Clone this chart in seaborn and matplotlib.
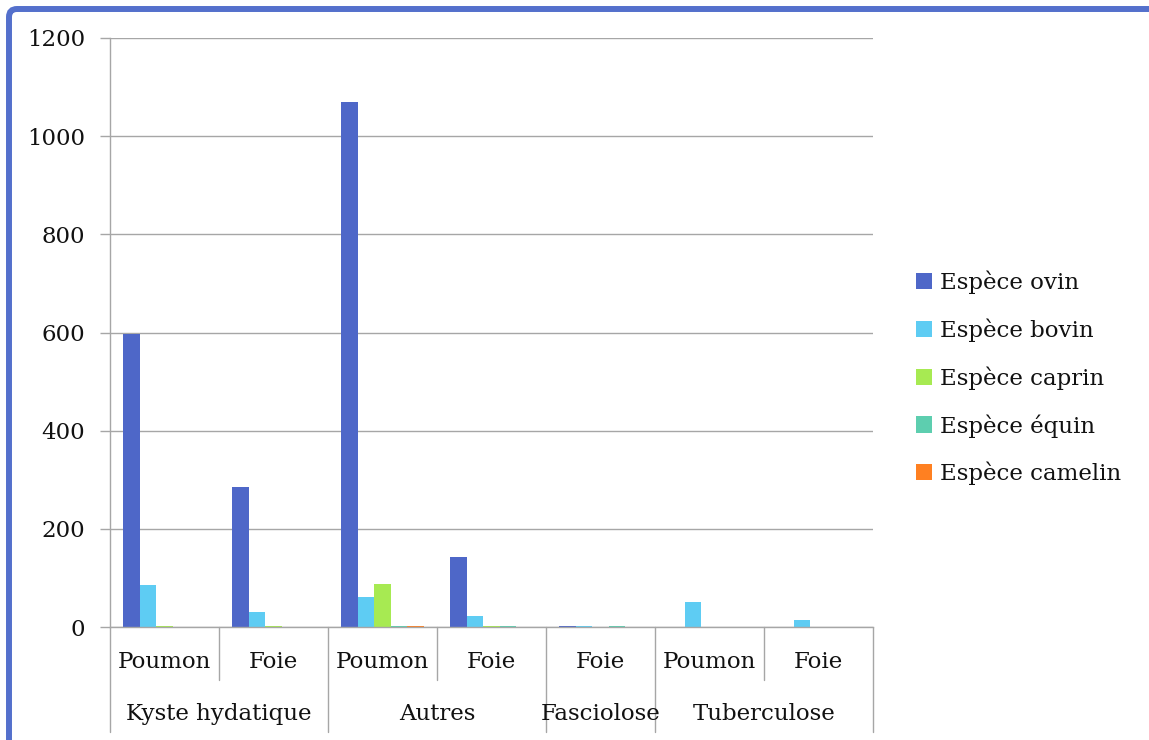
import numpy as np
import pandas as pd
import matplotlib
matplotlib.use("Agg")
import matplotlib.pyplot as plt
import matplotlib.transforms as mtransforms
from matplotlib.patches import Patch, FancyBboxPatch
from matplotlib.lines import Line2D
import seaborn as sns

# Lesions by disease / organ and by animal species
groupes = ["Kyste hydatique", "Kyste hydatique", "Autres", "Autres",
           "Fasciolose", "Tuberculose", "Tuberculose"]
organes = ["Poumon", "Foie", "Poumon", "Foie", "Foie", "Poumon", "Foie"]
especes = ["Espèce ovin", "Espèce bovin", "Espèce caprin",
           "Espèce équin", "Espèce camelin"]
ovin = [597, 285, 1069, 143, 2, 0, 0]
bovin = [85, 30, 61, 22, 2, 51, 14]
caprin = [2, 2, 88, 2, 0, 0, 0]
equin = [0, 0, 2, 2, 2, 0, 0]
camelin = [0, 0, 3, 0, 0, 0, 0]
yticks = [0, 200, 400, 600, 800, 1000, 1200]

couleurs = ["#4E67C8", "#5ECCF3", "#A7EA52", "#5DCEAF", "#FF8021"]
gris = "#A6A6A6"

cles = [f"{g}|{o}|{i}" for i, (g, o) in enumerate(zip(groupes, organes))]
series = [ovin, bovin, caprin, equin, camelin]
df = pd.DataFrame(
    [(cles[i], esp, vals[i]) for esp, vals in zip(especes, series)
     for i in range(len(cles))],
    columns=["cle", "espece", "valeur"],
)

sns.set_style("white")
plt.rcParams["font.family"] = ["DejaVu Serif"]
fs = 16.5

fig = plt.figure(figsize=(11.49, 7.40), dpi=100)
ax = fig.add_axes([110 / 1149, 1 - 627 / 740, (873 - 110) / 1149, (627 - 38) / 740])

sns.barplot(data=df, x="cle", y="valeur", hue="espece", order=cles,
            hue_order=especes, palette=couleurs, saturation=1,
            width=0.76, linewidth=0, errorbar=None, legend=False, ax=ax)

ax.set_xlim(-0.5, len(cles) - 0.5)
ax.set_ylim(0, 1200)
ax.set_yticks(yticks)
ax.set_yticklabels([str(v) for v in yticks])
ax.set_xticks([])
ax.set_xlabel("")
ax.set_ylabel("")
ax.yaxis.grid(True, color=gris, linewidth=1)
ax.set_axisbelow(True)
for s in ["top", "right"]:
    ax.spines[s].set_visible(False)
for s in ["left", "bottom"]:
    ax.spines[s].set_color(gris)
    ax.spines[s].set_linewidth(1)
ax.tick_params(axis="y", direction="out", length=7.2, width=1, color=gris,
               labelsize=fs, pad=10.8, labelcolor="#111111", left=True)

# Two-level category axis
trans = mtransforms.blended_transform_factory(ax.transData, ax.transAxes)
longues = {-0.5, 1.5, 3.5, 4.5, 6.5}
for b in np.arange(-0.5, len(cles), 1.0):
    y_bas = -0.178 if b in longues else -0.09
    ax.add_line(Line2D([b, b], [0, y_bas], transform=trans, color=gris,
                       linewidth=1, clip_on=False))
for i, o in enumerate(organes):
    ax.text(i, -0.0594, o, transform=trans, ha="center", va="center",
            fontsize=fs, color="#111111")
vus = []
for g in groupes:
    if g not in vus:
        vus.append(g)
for g in vus:
    idx = [i for i, gg in enumerate(groupes) if gg == g]
    ax.text(np.mean(idx), -0.1477, g, transform=trans, ha="center",
            va="center", fontsize=fs, color="#111111")

# Legend
poignees = [Patch(facecolor=c, edgecolor="none") for c in couleurs]
ax.legend(poignees, especes, loc="center left",
          bbox_to_anchor=(895 / 1149, 1 - 378 / 740),
          bbox_transform=fig.transFigure, frameon=False, fontsize=fs,
          handlelength=0.7, handleheight=0.7, handletextpad=0.35,
          labelspacing=1.06, labelcolor="#111111")

# Blue frame around the figure
cadre = FancyBboxPatch((0.09, -1.0), 13.0, 7.31 + 1.0,
                       boxstyle="round,pad=0,rounding_size=0.08",
                       transform=fig.dpi_scale_trans, facecolor="none",
                       edgecolor="#5470CC", linewidth=4.3, clip_on=False)
fig.patches.append(cadre)

fig.savefig("out.png", dpi=100)
